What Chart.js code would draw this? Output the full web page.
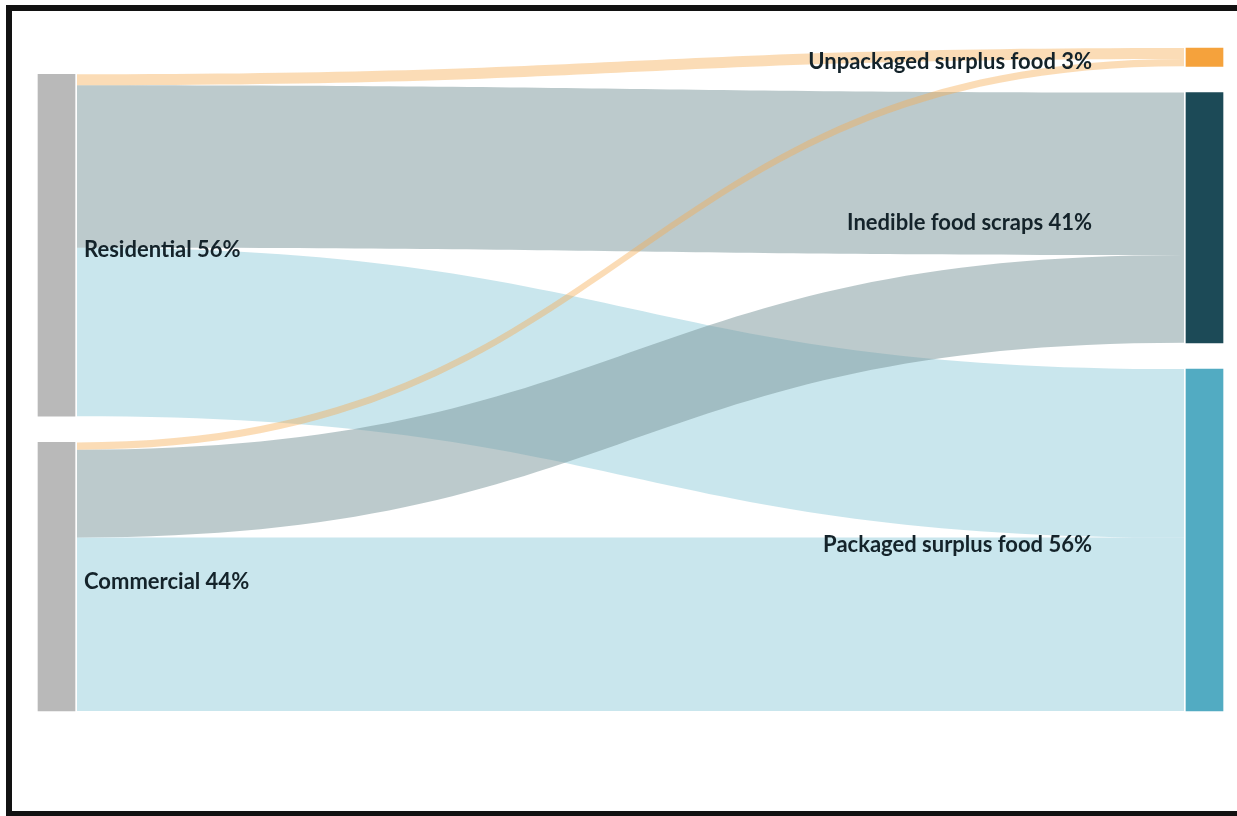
<!DOCTYPE html>
<html lang="en">
<head>
    <meta charset="UTF-8">
    <title>Food waste flows</title>
    <script src="https://cdn.jsdelivr.net/npm/chart.js"></script>
    <style>
        html, body { margin: 0; padding: 0; background: #fff; }
        #wrap { position: relative; width: 1237px; height: 816px; overflow: hidden; }
        #frame { position: absolute; left: 6px; top: 5px; width: 1300px; height: 800px;
                 border: 6px solid #121212; border-right: none; }
        canvas { position: absolute; left: 0; top: 0; }
    </style>
</head>
<body>
<div id="wrap">
    <canvas id="chartCanvas" width="1237" height="816"></canvas>
    <div id="frame"></div>
</div>

<script>
    // nodes (left column = sources, right column = destinations)
    var sourceNodes = ['Residential', 'Commercial'];
    var sourceShares = [56, 44];
    var targetNodes = ['Unpackaged surplus food', 'Inedible food scraps', 'Packaged surplus food'];
    var targetShares = [3, 41, 56];

    // flows, % of total
    var flowFrom = ['Residential', 'Residential', 'Residential', 'Commercial', 'Commercial', 'Commercial'];
    var flowTo = ['Unpackaged surplus food', 'Inedible food scraps', 'Packaged surplus food',
                  'Unpackaged surplus food', 'Inedible food scraps', 'Packaged surplus food'];
    var flowValue = [1.8, 26.6, 27.6, 1.2, 14.4, 28.4];

    var NODE_GAP = 4.3;      // value units between stacked nodes
    var NODE_WIDTH = 37;     // px
    var sourceColor = '#b9b9b9';
    var targetColors = ['#f5a23c', '#1c4a57', '#52abc2'];
    var flowColors = ['rgba(246,172,82,0.42)', 'rgba(121,149,153,0.5)', 'rgba(147,205,219,0.5)'];

    function sum(arr) { return arr.reduce(function (a, b) { return a + b; }, 0); }

    function nodeTotal(name, key) {
        var t = 0;
        for (var i = 0; i < flowValue.length; i++) {
            if ((key === 'from' ? flowFrom[i] : flowTo[i]) === name) t += flowValue[i];
        }
        return t;
    }

    var srcTotals = sourceNodes.map(function (n) { return nodeTotal(n, 'from'); });
    var tgtTotals = targetNodes.map(function (n) { return nodeTotal(n, 'to'); });
    var yMax = Math.max(sum(srcTotals) + NODE_GAP * (sourceNodes.length - 1),
                        sum(tgtTotals) + NODE_GAP * (targetNodes.length - 1));

    // stack a column from the bottom up so both columns end at the same baseline
    function stackColumn(totals) {
        var height = sum(totals) + NODE_GAP * (totals.length - 1);
        var y = yMax - height;
        return totals.map(function (t) {
            var r = [y, y + t];
            y += t + NODE_GAP;
            return r;
        });
    }
    var srcRanges = stackColumn(srcTotals);
    var tgtRanges = stackColumn(tgtTotals);

    var flowPlugin = {
        id: 'sankeyFlows',
        beforeDatasetsDraw: function (chart) {
            var ctx = chart.ctx, xs = chart.scales.x, ys = chart.scales.y;
            var x0 = xs.getPixelForValue(0) + NODE_WIDTH / 2 + 2;
            var x1 = xs.getPixelForValue(1) - NODE_WIDTH / 2 - 2;
            var xm = (x0 + x1) / 2;
            var srcOff = srcRanges.map(function (r) { return r[0]; });
            var tgtOff = tgtRanges.map(function (r) { return r[0]; });
            var shapes = [];
            for (var i = 0; i < flowValue.length; i++) {
                var s = sourceNodes.indexOf(flowFrom[i]);
                var t = targetNodes.indexOf(flowTo[i]);
                var v = flowValue[i];
                shapes.push({ t: t, s0: srcOff[s], s1: srcOff[s] + v });
                srcOff[s] += v;
            }
            for (var k = 0; k < shapes.length; k++) {
                var sh = shapes[k];
                sh.t0 = tgtOff[sh.t];
                sh.t1 = tgtOff[sh.t] + (sh.s1 - sh.s0);
                tgtOff[sh.t] = sh.t1;
            }
            // packaged, then inedible, then unpackaged on top
            var order = [2, 1, 0];
            ctx.save();
            order.forEach(function (t) {
                shapes.forEach(function (sh) {
                    if (sh.t !== t) return;
                    var a = ys.getPixelForValue(sh.s0), b = ys.getPixelForValue(sh.s1);
                    var c = ys.getPixelForValue(sh.t0), d = ys.getPixelForValue(sh.t1);
                    ctx.beginPath();
                    ctx.moveTo(x0, a);
                    ctx.bezierCurveTo(xm, a, xm, c, x1, c);
                    ctx.lineTo(x1, d);
                    ctx.bezierCurveTo(xm, d, xm, b, x0, b);
                    ctx.closePath();
                    ctx.fillStyle = flowColors[t];
                    ctx.fill();
                });
            });
            ctx.restore();
        },
        afterDatasetsDraw: function (chart) {
            var ctx = chart.ctx, xs = chart.scales.x, ys = chart.scales.y;
            ctx.save();
            ctx.font = 'bold 22px Lato, "Open Sans", sans-serif';
            ctx.fillStyle = '#14232a';
            ctx.textBaseline = 'middle';
            ctx.textAlign = 'left';
            sourceNodes.forEach(function (n, i) {
                var y = ys.getPixelForValue((srcRanges[i][0] + srcRanges[i][1]) / 2) + 5;
                ctx.fillText(n + ' ' + sourceShares[i] + '%', xs.getPixelForValue(0) + NODE_WIDTH / 2 + 9, y);
            });
            ctx.textAlign = 'right';
            targetNodes.forEach(function (n, i) {
                var y = ys.getPixelForValue((tgtRanges[i][0] + tgtRanges[i][1]) / 2) + 5;
                ctx.fillText(n + ' ' + targetShares[i] + '%', xs.getPixelForValue(1) - NODE_WIDTH / 2 - 94, y);
            });
            ctx.restore();
        }
    };

    var datasets = [{
        label: 'sources',
        data: srcRanges.map(function (r) { return { x: 0, y: r }; }),
        backgroundColor: sourceColor,
        clip: false
    }, {
        label: 'targets',
        data: tgtRanges.map(function (r) { return { x: 1, y: r }; }),
        backgroundColor: targetColors,
        clip: false
    }];

    new Chart(document.getElementById('chartCanvas').getContext('2d'), {
        type: 'bar',
        data: { datasets: datasets },
        options: {
            responsive: false,
            animation: false,
            events: [],
            grouped: false,
            barThickness: NODE_WIDTH,
            borderWidth: 0,
            layout: { padding: { left: 38 + NODE_WIDTH / 2, right: 1237 - 1223 + NODE_WIDTH / 2, top: 48, bottom: 816 - 711 } },
            scales: {
                x: { type: 'linear', min: 0, max: 1, offset: false, display: false },
                y: { type: 'linear', min: 0, max: yMax, reverse: true, display: false }
            },
            plugins: { legend: { display: false }, tooltip: { enabled: false } }
        },
        plugins: [flowPlugin]
    });
</script>
</body>
</html>
